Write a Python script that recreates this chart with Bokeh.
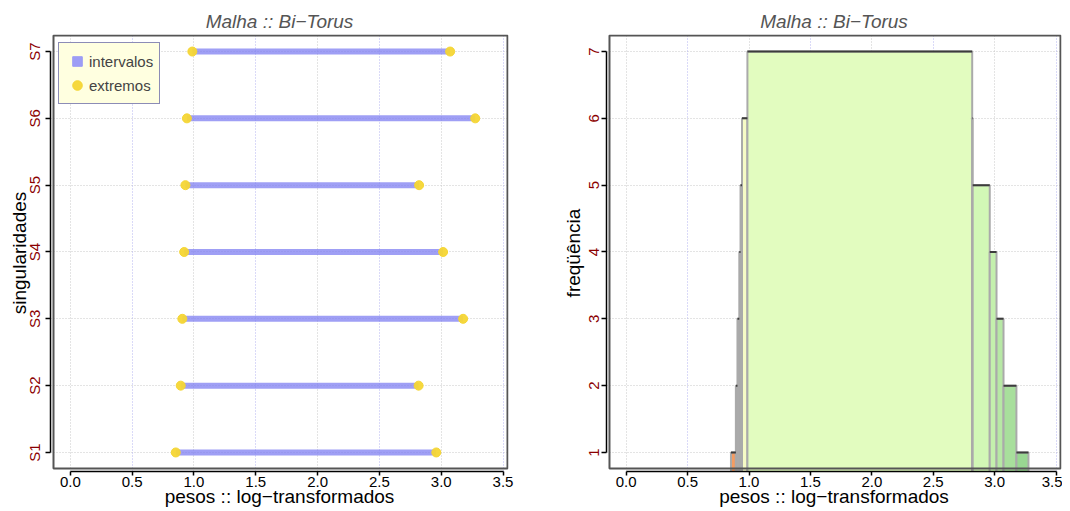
from bokeh.plotting import figure
from bokeh.layouts import row
from bokeh.models import (FixedTicker, Grid, Legend, LegendItem, Range1d,
                          PrintfTickFormatter, ColumnDataSource)
from bokeh.embed import file_html
from bokeh.resources import INLINE

# ---------------- data ----------------
singularidades = ["S1", "S2", "S3", "S4", "S5", "S6", "S7"]
inicio = [0.853, 0.893, 0.906, 0.921, 0.931, 0.943, 0.987]
fim = [2.960, 2.817, 3.177, 3.015, 2.821, 3.275, 3.072]
x_ticks = [0.0, 0.5, 1.0, 1.5, 2.0, 2.5, 3.0, 3.5]
freq_ticks = [1, 2, 3, 4, 5, 6, 7]
titulo = "Malha :: Bi\u2212Torus"
xlabel = "pesos :: log\u2212transformados"

# histogram of interval coverage (number of intervals covering each segment)
bordas = sorted(set(inicio + fim))
h_esq, h_dir, h_freq = [], [], []
for a, b in zip(bordas[:-1], bordas[1:]):
    m = (a + b) / 2
    n = sum(1 for s, e in zip(inicio, fim) if s <= m <= e)
    if n > 0:
        h_esq.append(a)
        h_dir.append(b)
        h_freq.append(n)

# ---------------- style ----------------
bar_colors = ["#f59c62", "#f2c9a8", "#f7dcb6", "#faeac2", "#fbf3c6", "#f6fbc6", "#e2fcbf",
              "#e2fcbf", "#d2f8b6", "#c4f0ad", "#b7e8a5", "#a8df9c", "#99d792"]
FONT = "Liberation Sans"
DARKRED = "#8b0000"
GRID_GRAY = "#c8c8c8"
GRID_BLUE = "#b4b4f0"

BOX_X = (-0.136, 3.536)
BOX_Y = (0.76, 7.24)
PX_X = 123.6
PX_Y = 66.8
X_RANGE = (BOX_X[0] - 3 / PX_X, BOX_X[1] + 1 / PX_X)
Y_RANGE = (BOX_Y[0] - 3 / PX_Y, BOX_Y[1] + 1 / PX_Y)
H = 511


def base_fig(width, border_left, border_right, ylabel, ylabel_standoff):
    p = figure(width=width, height=H, x_range=Range1d(*X_RANGE), y_range=Range1d(*Y_RANGE),
               output_backend="svg", toolbar_location=None,
               min_border_left=border_left, min_border_right=border_right,
               min_border_top=34, min_border_bottom=40)
    p.outline_line_color = None
    p.background_fill_color = "white"
    p.border_fill_color = "white"
    p.title.text = titulo
    p.title.align = "center"
    p.title.text_font = FONT
    p.title.text_font_style = "italic"
    p.title.text_font_size = "19px"
    p.title.text_color = "#555555"
    p.title.standoff = 5

    # x axis
    xa = p.xaxis[0]
    xa.ticker = FixedTicker(ticks=x_ticks)
    xa.formatter = PrintfTickFormatter(format="%.1f")
    xa.bounds = (x_ticks[0], x_ticks[-1])
    xa.major_label_text_font = FONT
    xa.major_label_text_font_size = "15px"
    xa.major_label_text_color = "black"
    xa.major_label_standoff = 1
    xa.major_tick_in = 0
    xa.major_tick_out = 4
    xa.minor_tick_line_color = None
    xa.axis_line_color = "black"
    xa.axis_line_width = 1.5
    xa.major_tick_line_width = 1.5
    xa.axis_label = xlabel
    xa.axis_label_text_font = FONT
    xa.axis_label_text_font_size = "19px"
    xa.axis_label_text_font_style = "normal"
    xa.axis_label_text_color = "black"
    xa.axis_label_standoff = -4

    # y axis
    ya = p.yaxis[0]
    ya.ticker = FixedTicker(ticks=freq_ticks)
    ya.bounds = (freq_ticks[0], freq_ticks[-1])
    ya.major_label_orientation = "vertical"
    ya.major_label_text_font = FONT
    ya.major_label_text_font_size = "15px"
    ya.major_label_text_color = DARKRED
    ya.major_label_standoff = 2
    ya.major_tick_in = 0
    ya.major_tick_out = 5
    ya.minor_tick_line_color = None
    ya.axis_line_color = "black"
    ya.axis_line_width = 1.5
    ya.major_tick_line_width = 1.5
    ya.axis_label = ylabel
    ya.axis_label_text_font = FONT
    ya.axis_label_text_font_size = "19px"
    ya.axis_label_text_font_style = "normal"
    ya.axis_label_text_color = "black"
    ya.axis_label_standoff = ylabel_standoff

    # grids
    p.xgrid.ticker = FixedTicker(ticks=[0, 1, 2, 3])
    p.xgrid.bounds = (-1, 5)
    p.xgrid.grid_line_color = GRID_GRAY
    p.xgrid.grid_line_dash = "1 2"
    p.ygrid.ticker = FixedTicker(ticks=freq_ticks)
    p.ygrid.bounds = (-1, 9)
    p.ygrid.grid_line_color = GRID_GRAY
    p.ygrid.grid_line_dash = "1 2"
    g2 = Grid(dimension=0, ticker=FixedTicker(ticks=[0.5, 1.5, 2.5, 3.5]), bounds=(-1, 5),
              grid_line_color=GRID_BLUE, grid_line_dash="1 2")
    p.add_layout(g2)
    return p


def add_box(p):
    p.quad(left=[BOX_X[0]], right=[BOX_X[1]], bottom=[BOX_Y[0]], top=[BOX_Y[1]],
           fill_alpha=0, line_color="#555555", line_width=2)


# ---------------- left: intervals ----------------
p1 = base_fig(538, 50, 30, "singularidades", -6)
p1.yaxis[0].major_label_overrides = {i + 1: s for i, s in enumerate(singularidades)}
ypos = list(range(1, len(singularidades) + 1))
seg = ColumnDataSource(dict(x0=inicio, x1=fim, y=ypos))
p1.segment(x0="x0", y0="y", x1="x1", y1="y", source=seg, line_width=6,
           line_color="#7f7ff2", line_alpha=0.75, line_cap="butt")
pts = ColumnDataSource(dict(x=inicio + fim, y=ypos + ypos))
circ = p1.scatter(x="x", y="y", source=pts, marker="circle", size=9,
                  fill_color="#f5d634", line_color="#f5d634", fill_alpha=0.95)
# legend proxy for the interval swatch (placed outside the visible range)
sq = p1.scatter(x=[X_RANGE[0] - 5], y=[Y_RANGE[0] - 5], marker="square", size=10,
                fill_color="#9d9df5", line_color="#9d9df5")
add_box(p1)
leg = Legend(items=[LegendItem(label="intervalos", renderers=[sq]),
                    LegendItem(label="extremos", renderers=[circ])],
             location="top_left", margin=8, padding=6, spacing=-5,
             glyph_width=24, glyph_height=24, label_standoff=0,
             background_fill_color="#ffffe0", background_fill_alpha=1,
             border_line_color="#1a1a8c", border_line_width=1.5,
             label_text_font=FONT, label_text_font_size="15px")
p1.add_layout(leg)

# ---------------- right: histogram ----------------
p2 = base_fig(524, 68, 1, "freq\u00fc\u00eancia", 3)
hs = ColumnDataSource(dict(left=h_esq, right=h_dir, top=h_freq,
                           bottom=[0] * len(h_freq), color=bar_colors[:len(h_freq)]))
p2.quad(left="left", right="right", top="top", bottom="bottom", source=hs,
        fill_color="color", line_color="#aaaaaa", line_width=2)
p2.segment(x0="left", x1="right", y0="top", y1="top", source=hs,
           line_color="#3c3c3c", line_width=2)
add_box(p2)

layout = row(p1, p2)
open("out.html", "w").write(file_html(layout, INLINE))
